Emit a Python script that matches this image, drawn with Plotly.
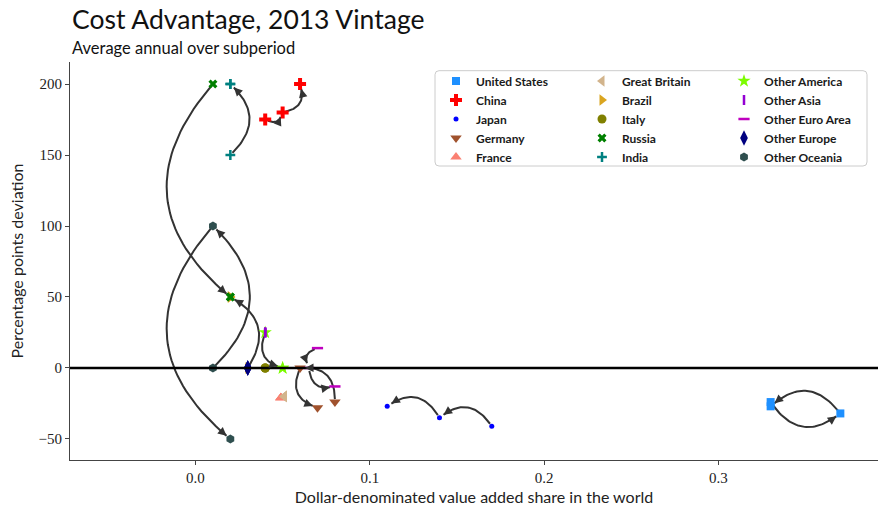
import numpy as np
import plotly.graph_objects as go

# Country positions over three subperiods: (value-added share, pp deviation)
countries = ["United States", "China", "Japan", "Germany", "France",
             "Great Britain", "Brazil", "Italy", "Russia", "India",
             "Other America", "Other Asia", "Other Euro Area", "Other Europe",
             "Other Oceania"]

us_x = [0.33, 0.37, 0.33];          us_y = [-24, -32, -27]
china_x = [0.04, 0.05, 0.06];       china_y = [175, 180, 200]
japan_x = [0.17, 0.14, 0.11];       japan_y = [-41, -35, -27]
germany_x = [0.08, 0.06, 0.07];     germany_y = [-24, 0, -28]
france_x = [0.049, 0.049, 0.049];   france_y = [-21, -21, -21]
gb_x = [0.051, 0.051, 0.051];       gb_y = [-20, -20, -20]
brazil_x = [0.03, 0.02, 0.02];      brazil_y = [0, 50, 50]
italy_x = [0.04, 0.04, 0.04];       italy_y = [0, 0, 0]
russia_x = [0.01, 0.02, 0.02];      russia_y = [200, 50, 50]
india_x = [0.02, 0.02, 0.02];       india_y = [150, 200, 200]
oamerica_x = [0.04, 0.05, 0.05];    oamerica_y = [25, 0, 0]
oasia_x = [0.04, 0.04, 0.04];       oasia_y = [25, 25, 25]
oeuro_x = [0.07, 0.065, 0.08];      oeuro_y = [14, 0, -13]
oeurope_x = [0.03, 0.03, 0.03];     oeurope_y = [0, 0, 0]
ooceania_x = [0.01, 0.01, 0.02];    ooceania_y = [0, 100, -50]

xs = [us_x, china_x, japan_x, germany_x, france_x, gb_x, brazil_x, italy_x,
      russia_x, india_x, oamerica_x, oasia_x, oeuro_x, oeurope_x, ooceania_x]
ys = [us_y, china_y, japan_y, germany_y, france_y, gb_y, brazil_y, italy_y,
      russia_y, india_y, oamerica_y, oasia_y, oeuro_y, oeurope_y, ooceania_y]

# marker style per country: (symbol, colour, size, line width)
styles = [
    ("square", "#1E90FF", 8, 0),
    ("cross", "#FF0000", 10, 0),
    ("circle", "#0000FF", 5, 0),
    ("triangle-down", "#A0522D", 10, 0),
    ("triangle-up", "#FA8072", 10, 0),
    ("triangle-left", "#D2B48C", 10, 0),
    ("triangle-right", "#DAA520", 10, 0),
    ("circle", "#808000", 9, 0),
    ("x", "#008000", 8, 0),
    ("cross-thin-open", "#008080", 7, 2.5),
    ("star", "#7CFC00", 10, 0),
    ("line-ns-open", "#9400D3", 7, 2.5),
    ("line-ew-open", "#BF00BF", 8, 2.5),
    ("diamond-tall", "#000080", 11, 0),
    ("hexagon", "#2F4F4F", 9, 0),
]

# plot geometry (pixels) and axis ranges
W, H = 878, 508
ML, MR, MT, MB = 70, 0, 62, 48
PW, PH = W - ML - MR, H - MT - MB
XR = [-0.072, 0.3916]
YR = [-64.8, 215.5]


def to_px(x, y):
    return ((x - XR[0]) / (XR[1] - XR[0]) * PW,
            (y - YR[0]) / (YR[1] - YR[0]) * PH)


def to_data(px, py):
    return (XR[0] + px / PW * (XR[1] - XR[0]),
            YR[0] + py / PH * (YR[1] - YR[0]))


def unit(v):
    n = np.hypot(v[0], v[1])
    return v / n if n > 0 else v


fig = go.Figure()

# curved arrows between consecutive subperiods (arc with rad=0.5)
RAD = 0.5
arrow_annotations = []
for cx_list, cy_list in zip(xs, ys):
    for i in range(len(cx_list) - 1):
        p0 = np.array(to_px(cx_list[i], cy_list[i]))
        p2 = np.array(to_px(cx_list[i + 1], cy_list[i + 1]))
        d = p2 - p0
        if np.hypot(*d) < 1e-6:
            continue
        mid = (p0 + p2) / 2
        ctrl = mid + RAD * np.array([d[1], -d[0]])
        start = p0 + 3 * unit(ctrl - p0)
        head = p2 - 5 * unit(p2 - ctrl)
        t = np.linspace(0, 1, 40)[:, None]
        pts = (1 - t) ** 2 * start + 2 * (1 - t) * t * ctrl + t ** 2 * head
        dx, dy = zip(*[to_data(px, py) for px, py in pts])
        fig.add_trace(go.Scatter(x=dx, y=dy, mode="lines",
                                 line=dict(color="#333333", width=2),
                                 showlegend=False, hoverinfo="skip"))
        tail = head - 6 * unit(head - ctrl)
        hx, hy = to_data(*head)
        tx, ty = to_data(*tail)
        arrow_annotations.append(dict(
            x=hx, y=hy, ax=tx, ay=ty, xref="x", yref="y", axref="x", ayref="y",
            text="", showarrow=True, arrowhead=2, arrowsize=0.85, arrowwidth=2,
            arrowcolor="#333333", standoff=0, startstandoff=0))

# country markers, legend split in three columns
legend_ids = ["legend"] * 5 + ["legend2"] * 5 + ["legend3"] * 5
for name, cx_list, cy_list, (sym, col, size, lw), lg in zip(
        countries, xs, ys, styles, legend_ids):
    mk = dict(symbol=sym, color=col, size=size)
    if lw:
        mk["line"] = dict(color=col, width=lw)
    else:
        mk["line"] = dict(width=0)
    fig.add_trace(go.Scatter(x=cx_list, y=cy_list, mode="markers", name=name,
                             marker=mk, legend=lg))

sans = "Lato"
serif = "Liberation Serif"

legend_common = dict(yanchor="top", xanchor="left", y=0.9887,
                     bgcolor="rgba(0,0,0,0)", borderwidth=0,
                     font=dict(family=sans, size=12, weight="bold", color="#1a1a1a"),
                     tracegroupgap=0, orientation="v")

# rounded legend frame
x0, x1 = (435 - ML) / PW, (867 - ML) / PW
y0, y1 = (MT + PH - 166) / PH, (MT + PH - 70.7) / PH
rx, ry = 4 / PW, 4 / PH
frame = (f"M{x0 + rx},{y0} L{x1 - rx},{y0} Q{x1},{y0} {x1},{y0 + ry} "
         f"L{x1},{y1 - ry} Q{x1},{y1} {x1 - rx},{y1} L{x0 + rx},{y1} "
         f"Q{x0},{y1} {x0},{y1 - ry} L{x0},{y0 + ry} Q{x0},{y0} {x0 + rx},{y0} Z")

fig.update_layout(
    width=W, height=H,
    margin=dict(l=ML, r=MR, t=MT, b=MB, pad=0),
    paper_bgcolor="white", plot_bgcolor="white",
    legend=dict(x=(436 - ML) / PW, **legend_common),
    legend2=dict(x=(582 - ML) / PW, **legend_common),
    legend3=dict(x=(724 - ML) / PW, **legend_common),
    xaxis=dict(range=XR, showgrid=False, zeroline=False, showline=True,
               linecolor="#444444", linewidth=1.2, ticks="outside", ticklen=4,
               tickcolor="#444444", tickvals=[0.0, 0.1, 0.2, 0.3],
               ticktext=["0.0", "0.1", "0.2", "0.3"],
               tickfont=dict(family=serif, size=15, color="#222222"),
               title=dict(text="Dollar-denominated value added share in the world",
                          font=dict(family=sans, size=16, color="#222222"),
                          standoff=6)),
    yaxis=dict(range=YR, showgrid=False, zeroline=False, showline=True,
               linecolor="#444444", linewidth=1.2, ticks="outside", ticklen=4,
               tickcolor="#444444", tickvals=[-50, 0, 50, 100, 150, 200],
               tickfont=dict(family=serif, size=15, color="#222222"),
               title=dict(text="Percentage points deviation",
                          font=dict(family=sans, size=16, color="#222222"),
                          standoff=10)),
    shapes=[
        dict(type="line", xref="paper", yref="y", x0=0, x1=1, y0=0, y1=0,
             line=dict(color="black", width=2.5), layer="above"),
        dict(type="path", xref="paper", yref="paper", path=frame,
             fillcolor="rgba(255,255,255,0.85)",
             line=dict(color="#cccccc", width=1), layer="above"),
    ],
    annotations=arrow_annotations + [
        dict(text="Cost Advantage, 2013 Vintage", xref="paper", yref="paper",
             x=0, y=(MT + PH - 19) / PH, xanchor="left", yanchor="middle",
             showarrow=False, font=dict(family=sans, size=26.5, color="#111111")),
        dict(text="Average annual over subperiod", xref="paper", yref="paper",
             x=0, y=(MT + PH - 48) / PH, xanchor="left", yanchor="middle",
             showarrow=False, font=dict(family=sans, size=16.5, color="#111111")),
    ],
)

fig.write_html("out.html")
